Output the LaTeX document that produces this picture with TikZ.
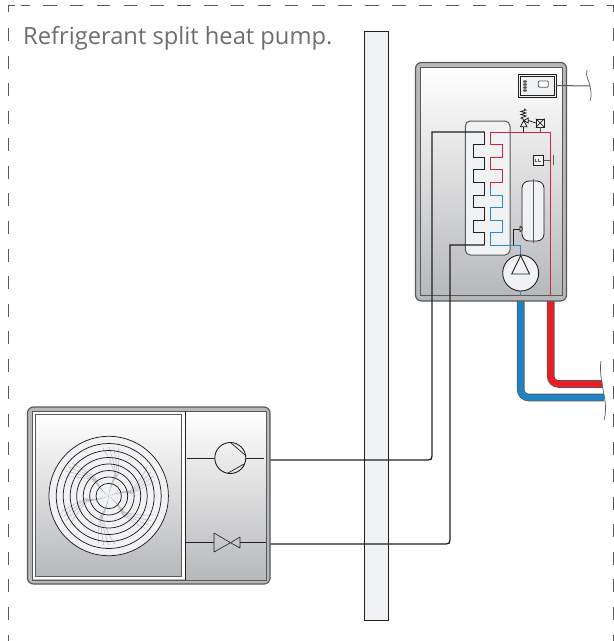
\documentclass[tikz,border=0pt]{standalone}
\usepackage{fontspec}
\setmainfont{Open Sans}
\definecolor{ink}{HTML}{231F20}
\definecolor{edge}{HTML}{58595B}
\definecolor{band}{HTML}{B7B8BA}
\definecolor{pale}{HTML}{F1F2F4}
\definecolor{dashc}{HTML}{6D6E71}
\definecolor{hotl}{HTML}{D2233F}
\definecolor{coldl}{HTML}{2A8BC9}
\definecolor{hotp}{HTML}{ED1C24}
\definecolor{coldp}{HTML}{1C84C6}
\definecolor{bladec}{HTML}{BFC0C2}
\tikzset{
  wire/.style={draw=ink,line width=0.9pt},
  longwire/.style={draw=ink,line width=1.3pt},
  hotwire/.style={draw=hotl,line width=1pt},
  coldwire/.style={draw=coldl,line width=1pt},
  casing/.style={draw=edge,line width=1.2pt,fill=band,rounded corners=6pt},
  innerpanel/.style={draw=edge,line width=1pt,top color=white,bottom color=band,middle color=white!50!band},
  palebox/.style={draw=ink,line width=0.8pt,fill=pale},
  roundsym/.style={circle,draw=ink,line width=0.9pt,fill=pale,inner sep=0pt},
  ring/.style={draw=ink,line width=0.75pt},
  frameline/.style={draw=ink!75,line width=0.9pt},
  frameH/.style={frameline,dash pattern=on 13.5pt off 13.35pt},
  frameV/.style={frameline,dash pattern=on 13pt off 14.57pt},
}
\begin{document}
\begin{tikzpicture}[x=1pt,y=-1pt]
\useasboundingbox (0,0) rectangle (614,641);
% frame
\coordinate (ftl) at (8,5.5);
\coordinate (ftr) at (613,5.5);
\draw[frameline] (8,12) -- (ftl) -- (15,5.5);
\draw[frameline] (21,5.5) -- (30,5.5);
\draw[frameH] (43,5.5) -- (600,5.5);
\draw[frameline] (607,5.5) -- (ftr) -- (613,12);
\draw[frameV] (8,28) -- (8,641);
\draw[frameV] (613,28) -- (613,641);
% title
\node[anchor=base west,inner sep=0pt,text=dashc,font=\fontsize{23.7}{26}\selectfont] (title) at (23,44.5) {Refrigerant split heat pump.};
% wall
\draw[draw=ink,line width=0.7pt,fill=pale] (364.5,31.5) rectangle (388,620);

% pipes
\coordinate (coldtop) at (520.7,296);
\coordinate (coldend) at (604,397.5);
\coordinate (hottop) at (550.7,296);
\coordinate (hotend) at (602,384);
\draw[draw=edge,line width=7.6pt,rounded corners=8pt] (coldtop) -- (coldtop |- coldend) -- (coldend);
\draw[draw=coldp,line width=6pt,rounded corners=8pt] (coldtop) -- (coldtop |- coldend) -- (coldend);
\draw[draw=edge,line width=7.6pt,rounded corners=8pt] (hottop) -- (hottop |- hotend) -- (hotend);
\draw[draw=hotp,line width=6pt,rounded corners=8pt] (hottop) -- (hottop |- hotend) -- (hotend);
\draw[draw=edge,line width=0.7pt] (601,361) .. controls (599,372) and (603,388) .. (604.5,398) .. controls (606,406) and (606,413) .. (604,420);

% indoor unit
\draw[casing] (415.5,62.5) rectangle (566.5,301);
\draw[innerpanel] (420,67.5) rectangle (562,295.5);
% controller
\node[draw=ink,line width=0.8pt,fill=pale,minimum width=38pt,minimum height=23pt,inner sep=0pt] (ctrl) at (537,85.5) {};
\draw[draw=ink,line width=0.7pt] (520,76) rectangle (554,95);
\foreach \yy in {81.5,84.5,87.5,90.5} \fill[edge] (525,\yy) ellipse (2pt and 1.3pt);
\draw[draw=edge,line width=0.8pt,rounded corners=1pt,fill=white] (538.3,81) rectangle (548.3,87.3);
\coordinate (brace) at (590,86);
\draw[draw=edge,line width=1pt] (ctrl.east) -- (brace);
\draw[draw=edge,line width=0.7pt] (587,70) .. controls (585,76) and (589,80) .. (590,86) .. controls (591,92) and (592,96) .. (590,101);

% tank
\draw[palebox,rounded corners=5pt,draw=edge,line width=1pt] (465.3,121) rectangle (510,255);

% red line loop and appliances
\coordinate (redstart) at (490.7,132);
\coordinate (redcorner) at (550.7,132);
\coordinate (redend) at (550.7,296);
\draw[hotwire] (redstart) -- (redcorner) -- (redend);
% coils
\draw[hotwire] (redstart) -- (490.7,144) -- (502,144) -- (502,157) -- (490.7,157) -- (490.7,169) -- (502,169) -- (502,182) -- (490.7,182) -- (490.7,188);
\draw[coldwire] (490.7,188) -- (490.7,195) -- (502,195) -- (502,207) -- (490.7,207) -- (490.7,220) -- (502,220) -- (502,232) -- (490.7,232) -- (490.7,245) -- (520.7,245) -- (520.7,255);
\coordinate (coilb) at (484.6,132);
\coordinate (rfA) at (270,460);
\coordinate (rfB) at (270,544);
\draw[longwire] (rfA) -- (428,460) .. controls (431,460) and (432,459) .. (432,456) -- (432,132) -- (coilb);
\draw[wire] (coilb) -- (484.6,144) -- (473,144) -- (473,157) -- (484.6,157) -- (484.6,169) -- (473,169) -- (473,182) -- (484.6,182) -- (484.6,195) -- (473,195) -- (473,207) -- (484.6,207) -- (484.6,220) -- (473,220) -- (473,232) -- (484.6,232) -- (484.6,245);
\draw[longwire] (484.6,245) -- (450,245) -- (450,540) .. controls (450,543) and (449,544) .. (446,544) -- (rfB);
% pump
\node[roundsym,minimum size=36pt] (pump) at (520.7,273) {};
\draw[wire,line join=miter] (520.7,255.5) -- (529.5,274) -- (511.7,274) -- cycle;
\coordinate (bluebot) at (520.7,296);
\draw[coldwire] (pump.south) -- (bluebot);
% expansion vessel
\coordinate (tee) at (513,245);
\draw[wire] (tee) -- (513,229) -- (520,229);
\draw[palebox,rounded corners=7pt] (522,181) rectangle (544,241);
\draw[wire,fill=pale] (520,226.5) .. controls (523,226.5) and (523,231.5) .. (520,231.5) -- cycle;
\draw[draw=edge,line width=0.7pt] (533.5,179) -- (533.5,243);
% safety group
\coordinate (sv) at (523.5,132);
\coordinate (box) at (540.2,132);
\draw[wire,line width=0.8pt] (sv) -- (523.5,126.7);
\draw[wire,line width=0.8pt,fill=pale] (523.7,120.5) -- (527,126.7) -- (520.5,126.7) -- cycle;
\draw[wire,line width=0.8pt,fill=pale] (523.7,120.5) -- (528.3,118) -- (528.3,123) -- cycle;
\draw[wire,line width=0.8pt] (523.7,119.5) -- (521,118) -- (526,116) -- (521,114.5) -- (526,113) -- (521,111.5) -- (526,110) -- (524,109);
\node[draw=ink,line width=0.8pt,fill=pale,minimum size=8pt,inner sep=0pt] (vbox) at (540.2,123) {};
\draw[wire,line width=0.7pt] (vbox.north west) -- (vbox.south east) (vbox.north east) -- (vbox.south west);
\draw[draw=edge,line width=0.8pt] (vbox.south) -- (box);
\draw[wire,line width=0.8pt] (528.3,120.5) -- (vbox.west);
% gauge
\node[draw=ink,line width=0.7pt,fill=pale,minimum size=10pt,inner sep=0pt] (gauge) at (538.3,160) {};
\draw[draw=edge,line width=0.5pt] (535.5,158.5) -- (535.5,161.5) -- (537,161.5) (537.8,158.5) -- (537.8,161.5) -- (540.5,161.5);
\coordinate (gtap) at (550.7,160);
\draw[draw=edge,line width=0.8pt] (gauge.east) -- (gtap);
\draw[draw=edge,line width=1.3pt] (553.3,155) -- (553.3,162.5);
\draw[draw=edge,line width=0.7pt] (553.3,162.5) -- (553.3,165);

% outdoor unit
\draw[casing] (27.5,407) rectangle (270,584);
\draw[innerpanel] (32,411) rectangle (266,580);
\fill[white] (32.6,411.6) rectangle (185,579.4);
\draw[innerpanel] (35.3,414.3) rectangle (181.7,576.7);
\draw[wire,line width=1pt] (185,411) -- (185,580);
% fan
\coordinate (fan) at (108.7,496);
\fill[pale] (fan) circle (59.7pt);
\begin{scope}[shift={(fan)}]
\foreach \ang in {0,60,120,180,240,300}{
  \begin{scope}[rotate=\ang]
    \fill[bladec] (0,0) .. controls (-1.5,8) and (-4,14) .. (-9.5,21) -- (-6,22) .. controls (-3,14) and (-0.5,8) .. (0,0) -- cycle;
    \draw[bladec,line width=0.6pt] (-9.5,21) .. controls (-9.5,29) and (-10.5,38) .. (-10,48);
    \draw[bladec,line width=0.6pt] (-8.5,21) .. controls (-8,29) and (-7,38) .. (-5,49);
    \draw[bladec,line width=0.6pt] (-7.5,21) .. controls (-6,29) and (-4,38) .. (0,49);
    \draw[bladec,line width=0.6pt] (-6.5,21) .. controls (-4,29) and (-1,38) .. (6,48);
  \end{scope}
}
\end{scope}
\foreach \rr in {59.7,52.5,45.5,38.5,32,25.5,19,12.7} \draw[ring] (fan) circle (\rr pt);
% compressor
\node[roundsym,minimum size=31pt,fill=none] (comp) at (230.3,458) {};
\coordinate (compL) at (187,458);
\coordinate (compR) at (264,458);
\draw[wire] (compL) -- (comp.west);
\draw[wire] (comp.east) -- (compR);
\draw[wire,line width=0.7pt] (230.7,442.7) -- (245,455);
\draw[wire,line width=0.7pt] (227.5,473.3) -- (244,464);
% valve
\coordinate (valveL) at (214,542.7);
\coordinate (valveR) at (240,542.7);
\coordinate (valvePL) at (186,542.7);
\coordinate (valvePR) at (266,542.7);
\draw[wire,line width=0.6pt,line join=bevel] (valveL) ++(0,-9.7) -- (230.5,542.7) -- (214,552) -- cycle;
\draw[wire,line width=0.6pt,line join=bevel] (230.5,542.7) -- (240,537) -- (240,548) -- cycle;
\draw[wire] (valvePL) -- (valveL);
\draw[wire] (valveR) -- (valvePR);
\end{tikzpicture}
\end{document}
